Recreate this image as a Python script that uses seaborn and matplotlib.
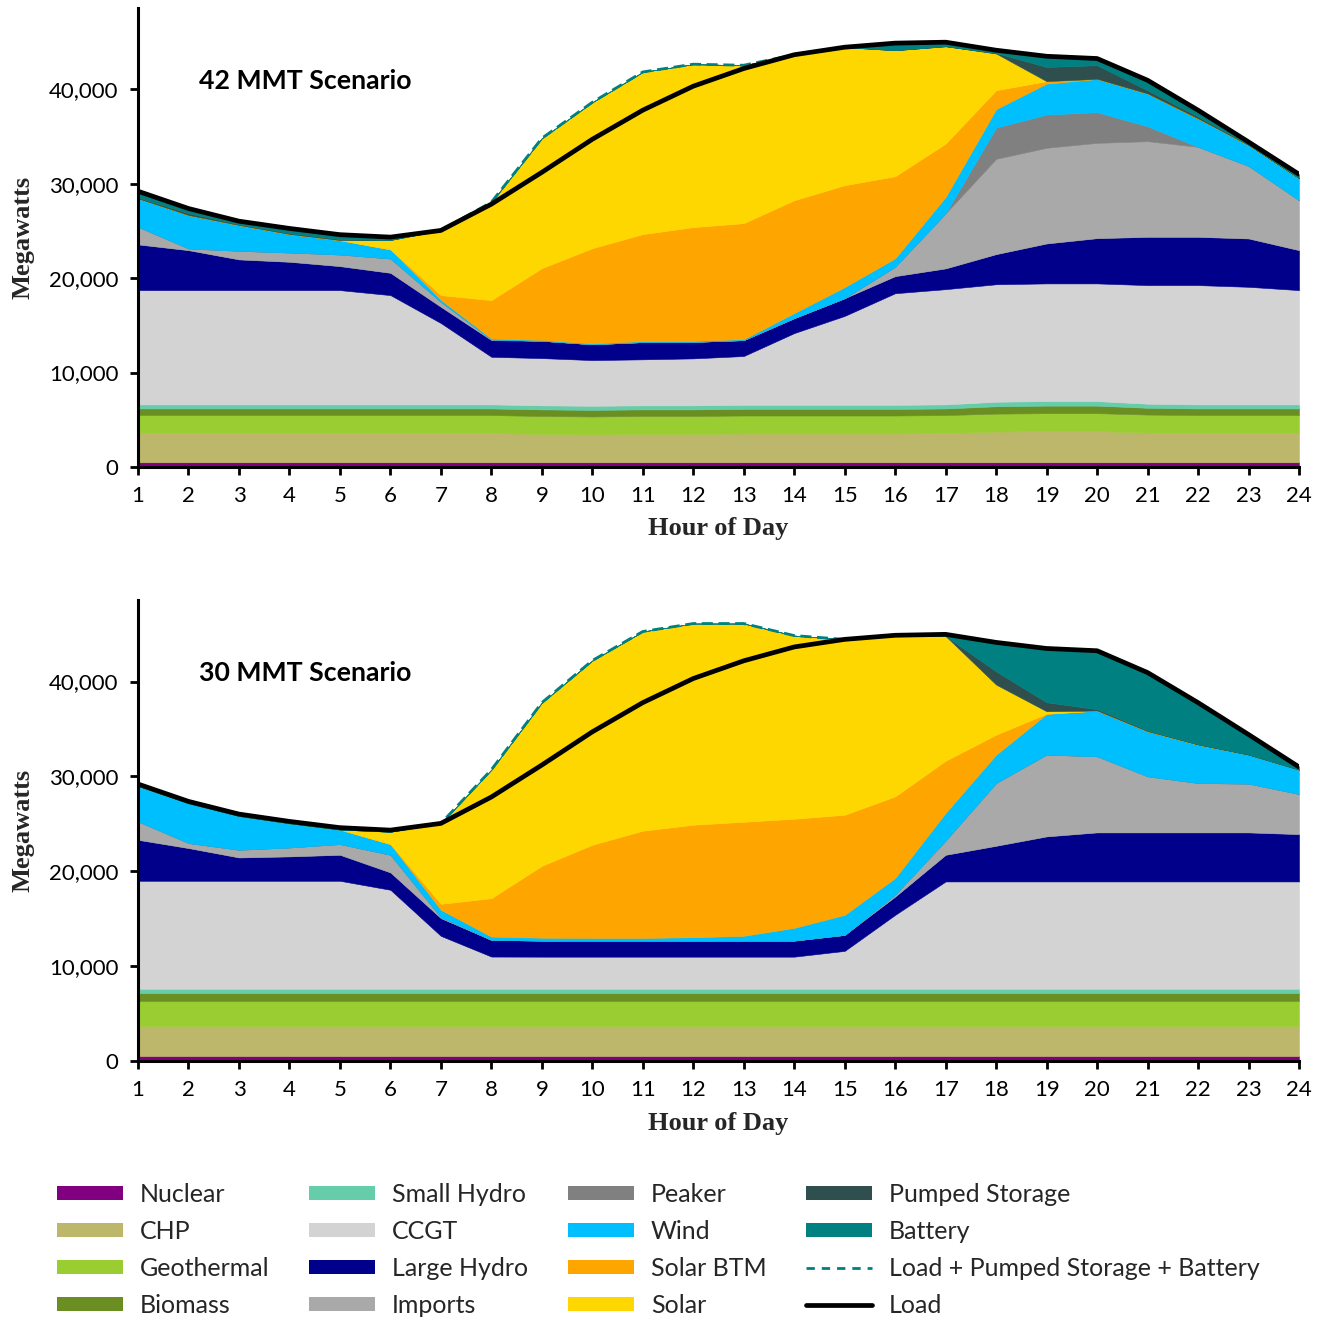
import matplotlib
matplotlib.use("Agg")
import matplotlib.pyplot as plt
import seaborn as sns
import pandas as pd
from matplotlib.patches import Patch
from matplotlib.lines import Line2D
from matplotlib.ticker import FuncFormatter

sns.set_theme(style="ticks")
plt.rcParams['font.family'] = ['Lato', 'DejaVu Sans']

# ---------------- data ----------------
hours = [1, 2, 3, 4, 5, 6, 7, 8, 9, 10, 11, 12, 13, 14, 15, 16, 17, 18, 19, 20, 21, 22, 23, 24]
load = [29200, 27370, 26030, 25260, 24600, 24340, 25050, 27830, 31200, 34700, 37780, 40320,
        42190, 43650, 44450, 44880, 44980, 44130, 43490, 43250, 40950, 37780, 34420, 31000]

series_names = ["Nuclear", "CHP", "Geothermal", "Biomass", "Small Hydro", "CCGT", "Large Hydro",
                "Imports", "Peaker", "Wind", "Solar BTM", "Solar", "Pumped Storage", "Battery"]

# 42 MMT scenario (MW)
nuclear_42 = [500, 500, 500, 500, 500, 500, 500, 500, 500, 500, 500, 500,
              500, 500, 500, 500, 500, 500, 500, 500, 500, 500, 500, 500]
chp_42 = [3100, 3100, 3100, 3100, 3100, 3100, 3100, 3100, 3000, 2950, 3000, 3000,
          3050, 3050, 3050, 3050, 3100, 3250, 3300, 3300, 3150, 3100, 3100, 3100]
geothermal_42 = [1900, 1900, 1900, 1900, 1900, 1900, 1900, 1900, 1900, 1900, 1900, 1900,
                 1900, 1900, 1900, 1900, 1900, 1900, 1900, 1900, 1900, 1900, 1900, 1900]
biomass_42 = [700, 700, 700, 700, 700, 700, 700, 700, 700, 700, 700, 700,
              700, 700, 700, 700, 700, 780, 800, 800, 720, 700, 700, 700]
small_hydro_42 = [430, 430, 430, 430, 430, 430, 430, 430, 430, 430, 430, 430,
                  430, 430, 430, 430, 430, 480, 480, 480, 430, 430, 430, 430]
ccgt_42 = [12100, 12100, 12100, 12100, 12100, 11570, 8610, 5040, 5000, 4840, 4870, 4970,
           5170, 7600, 9420, 11820, 12200, 12440, 12460, 12460, 12560, 12630, 12450, 12100]
large_hydro_42 = [4840, 4230, 3250, 3000, 2540, 2360, 1720, 1770, 1840, 1680, 1830, 1750,
                  1690, 1590, 1880, 1810, 2200, 3190, 4230, 4790, 5110, 5110, 5120, 4230]
imports_42 = [1860, 180, 910, 980, 1230, 1520, 530, 60, 0, 0, 0, 0,
              0, 0, 0, 990, 5840, 10090, 10130, 10090, 10130, 9530, 7680, 5290]
peaker_42 = [0, 0, 0, 0, 0, 0, 0, 0, 0, 0, 0, 0,
             0, 0, 0, 0, 0, 3310, 3520, 3250, 1580, 0, 0, 0]
wind_42 = [3000, 3530, 2720, 1950, 1520, 960, 210, 100, 80, 80, 100, 100,
           100, 530, 1170, 900, 1730, 1960, 3280, 3520, 3460, 3000, 2200, 2300]
solar_btm_42 = [0, 0, 0, 0, 0, 0, 500, 4070, 7610, 10090, 11330, 12050,
                12280, 11950, 10790, 8690, 5650, 2000, 250, 0, 0, 0, 0, 0]
solar_42 = [0, 0, 0, 0, 0, 1000, 6850, 10370, 13750, 15450, 17170, 17250,
            16720, 15400, 14610, 13340, 10300, 3880, 0, 0, 0, 0, 0, 0]
pumped_42 = [100, 200, 100, 100, 100, 0, 0, 0, 0, 0, 0, 0,
             0, 0, 0, 0, 0, 50, 1510, 1450, 350, 200, 50, 50]
battery_42 = [670, 500, 320, 500, 480, 300, 0, 0, 0, 0, 0, 0,
              0, 0, 0, 750, 430, 300, 1130, 710, 1060, 680, 290, 400]
charging_42 = [0, 0, 0, 0, 0, 0, 0, 210, 3610, 3920, 4050, 2330,
               350, 0, 0, 0, 0, 0, 0, 0, 0, 0, 0, 0]

# 30 MMT scenario (MW)
nuclear_30 = [500, 500, 500, 500, 500, 500, 500, 500, 500, 500, 500, 500,
              500, 500, 500, 500, 500, 500, 500, 500, 500, 500, 500, 500]
chp_30 = [3190, 3190, 3190, 3190, 3190, 3190, 3190, 3190, 3190, 3190, 3190, 3190,
          3190, 3190, 3190, 3190, 3190, 3190, 3190, 3190, 3190, 3190, 3190, 3190]
geothermal_30 = [2680, 2680, 2680, 2680, 2680, 2680, 2680, 2680, 2680, 2680, 2680, 2680,
                 2680, 2680, 2680, 2680, 2680, 2680, 2680, 2680, 2680, 2680, 2680, 2680]
biomass_30 = [770, 770, 770, 770, 770, 770, 770, 770, 770, 770, 770, 770,
              770, 770, 770, 770, 770, 770, 770, 770, 770, 770, 770, 770]
small_hydro_30 = [490, 490, 490, 490, 490, 490, 490, 490, 490, 490, 490, 490,
                  490, 490, 490, 490, 490, 490, 490, 490, 490, 490, 490, 490]
ccgt_30 = [11370, 11370, 11370, 11370, 11370, 10420, 5560, 3380, 3370, 3370, 3370, 3370,
           3370, 3370, 3980, 7780, 11300, 11300, 11300, 11300, 11300, 11300, 11300, 11300]
large_hydro_30 = [4320, 3450, 2460, 2570, 2740, 1830, 1870, 1760, 1700, 1700, 1700, 1700,
                  1700, 1700, 1690, 1930, 2810, 3760, 4750, 5170, 5170, 5170, 5170, 4990]
imports_30 = [1940, 530, 810, 940, 1130, 1860, 100, 0, 0, 0, 0, 0,
              0, 0, 0, 200, 1510, 6620, 8620, 8020, 5910, 5210, 5140, 4230]
peaker_30 = [0, 0, 0, 0, 0, 0, 0, 0, 0, 0, 0, 0,
             0, 0, 0, 0, 0, 0, 0, 0, 0, 0, 0, 0]
wind_30 = [3740, 4190, 3560, 2550, 1530, 1130, 780, 350, 300, 280, 280, 350,
           500, 1340, 2110, 1760, 2920, 2990, 4290, 4820, 4750, 4040, 3060, 2560]
solar_btm_30 = [0, 0, 0, 0, 0, 0, 630, 4050, 7580, 9820, 11300, 11860,
                12020, 11500, 10550, 8600, 5490, 2100, 30, 0, 0, 0, 0, 0]
solar_30 = [0, 0, 0, 0, 0, 1300, 8480, 13540, 17200, 19420, 21000, 21210,
            20900, 19310, 18490, 16980, 13140, 5280, 250, 0, 0, 0, 0, 0]
pumped_30 = [0, 0, 0, 0, 0, 0, 0, 0, 0, 0, 0, 0,
             0, 0, 0, 0, 0, 1400, 950, 150, 100, 50, 0, 0]
battery_30 = [0, 0, 0, 0, 0, 0, 0, 0, 0, 0, 0, 0,
              0, 0, 0, 0, 0, 3070, 5670, 6160, 6090, 4380, 2120, 350]
charging_30 = [0, 0, 0, 0, 0, 0, 0, 2880, 6580, 7520, 7500, 5800,
               3930, 1200, 0, 0, 0, 0, 0, 0, 0, 0, 0, 0]

colors = ["#800080", "#BDB76B", "#9ACD32", "#6B8E23", "#66CDAA", "#D3D3D3", "#00008B",
          "#A9A9A9", "#808080", "#00BFFF", "#FFA500", "#FFD700", "#2F4F4F", "#008080"]

scen_42 = [nuclear_42, chp_42, geothermal_42, biomass_42, small_hydro_42, ccgt_42, large_hydro_42,
           imports_42, peaker_42, wind_42, solar_btm_42, solar_42, pumped_42, battery_42]
scen_30 = [nuclear_30, chp_30, geothermal_30, biomass_30, small_hydro_30, ccgt_30, large_hydro_30,
           imports_30, peaker_30, wind_30, solar_btm_30, solar_30, pumped_30, battery_30]

# ---------------- figure ----------------
W, H = 1326, 1317
fig = plt.figure(figsize=(W / 100, H / 100), dpi=100)
ax1 = fig.add_axes([138 / W, 1 - 467 / H, 1161 / W, 459 / H])
ax2 = fig.add_axes([138 / W, 1 - 1061 / H, 1161 / W, 461 / H])

TICK_FONT = 16
LABEL_FONT = dict(family=['Liberation Serif', 'DejaVu Serif'], weight='bold', size=19)


def draw(ax, layers, charging, title):
    df = pd.DataFrame(dict(zip(series_names, layers)), index=hours)
    polys = ax.stackplot(df.index, [df[c] for c in series_names], colors=colors, lw=0)
    for p, c in zip(polys, colors):
        p.set_edgecolor(c)
        p.set_linewidth(0.4)
    lines = pd.DataFrame({"hour": hours,
                          "dashed": [l + c for l, c in zip(load, charging)],
                          "load": load})
    sns.lineplot(data=lines, x="hour", y="dashed", ax=ax, color="#008080", lw=2.0,
                 linestyle=(0, (4, 2)), zorder=5)
    sns.lineplot(data=lines, x="hour", y="load", ax=ax, color="black", lw=3.4, zorder=6)
    ax.set_xlim(1, 24)
    ax.set_ylim(0, 48600)
    ax.set_xticks(hours)
    ax.set_yticks([0, 10000, 20000, 30000, 40000])
    ax.yaxis.set_major_formatter(FuncFormatter(lambda v, p: f"{int(v):,}"))
    sns.despine(ax=ax)
    for s in ("left", "bottom"):
        ax.spines[s].set_linewidth(2.2)
        ax.spines[s].set_color("black")
    ax.tick_params(axis="both", direction="out", length=6, width=2, colors="black",
                   labelsize=TICK_FONT)
    ax.tick_params(axis="y", pad=8)
    ax.tick_params(axis="x", pad=8)
    ax.set_xlabel("Hour of Day", **LABEL_FONT)
    ax.set_ylabel("Megawatts", **LABEL_FONT)
    ax.xaxis.set_label_coords(0.5, -0.135)
    ax.xaxis.label.set_va("center")
    ax.yaxis.set_label_coords(-0.099, 0.5)
    ax.yaxis.label.set_va("center")
    ax.text(0.0525, 0.841, title, transform=ax.transAxes, ha="left", va="center",
            fontsize=19.2, fontweight="bold", color="black")
    ax.grid(False)


draw(ax1, scen_42, charging_42, "42 MMT Scenario")
draw(ax2, scen_30, charging_30, "30 MMT Scenario")

legend_labels = series_names[:14] + ["Load + Pumped Storage + Battery", "Load"]
handles = [Patch(facecolor=c, edgecolor="none") for c in colors]
handles.append(Line2D([0], [0], color="#008080", lw=2.0, linestyle=(0, (3, 2.5))))
handles.append(Line2D([0], [0], color="black", lw=3.4))
fig.legend(handles, legend_labels, ncol=4,
           loc="upper left", bbox_to_anchor=(57 / W, 1 - 1183 / H), frameon=False,
           fontsize=18, handlelength=2.64, handleheight=0.5, handletextpad=0.68,
           columnspacing=1.58, labelspacing=0.56, borderaxespad=0, borderpad=0)

fig.savefig("out.png", dpi=100)
